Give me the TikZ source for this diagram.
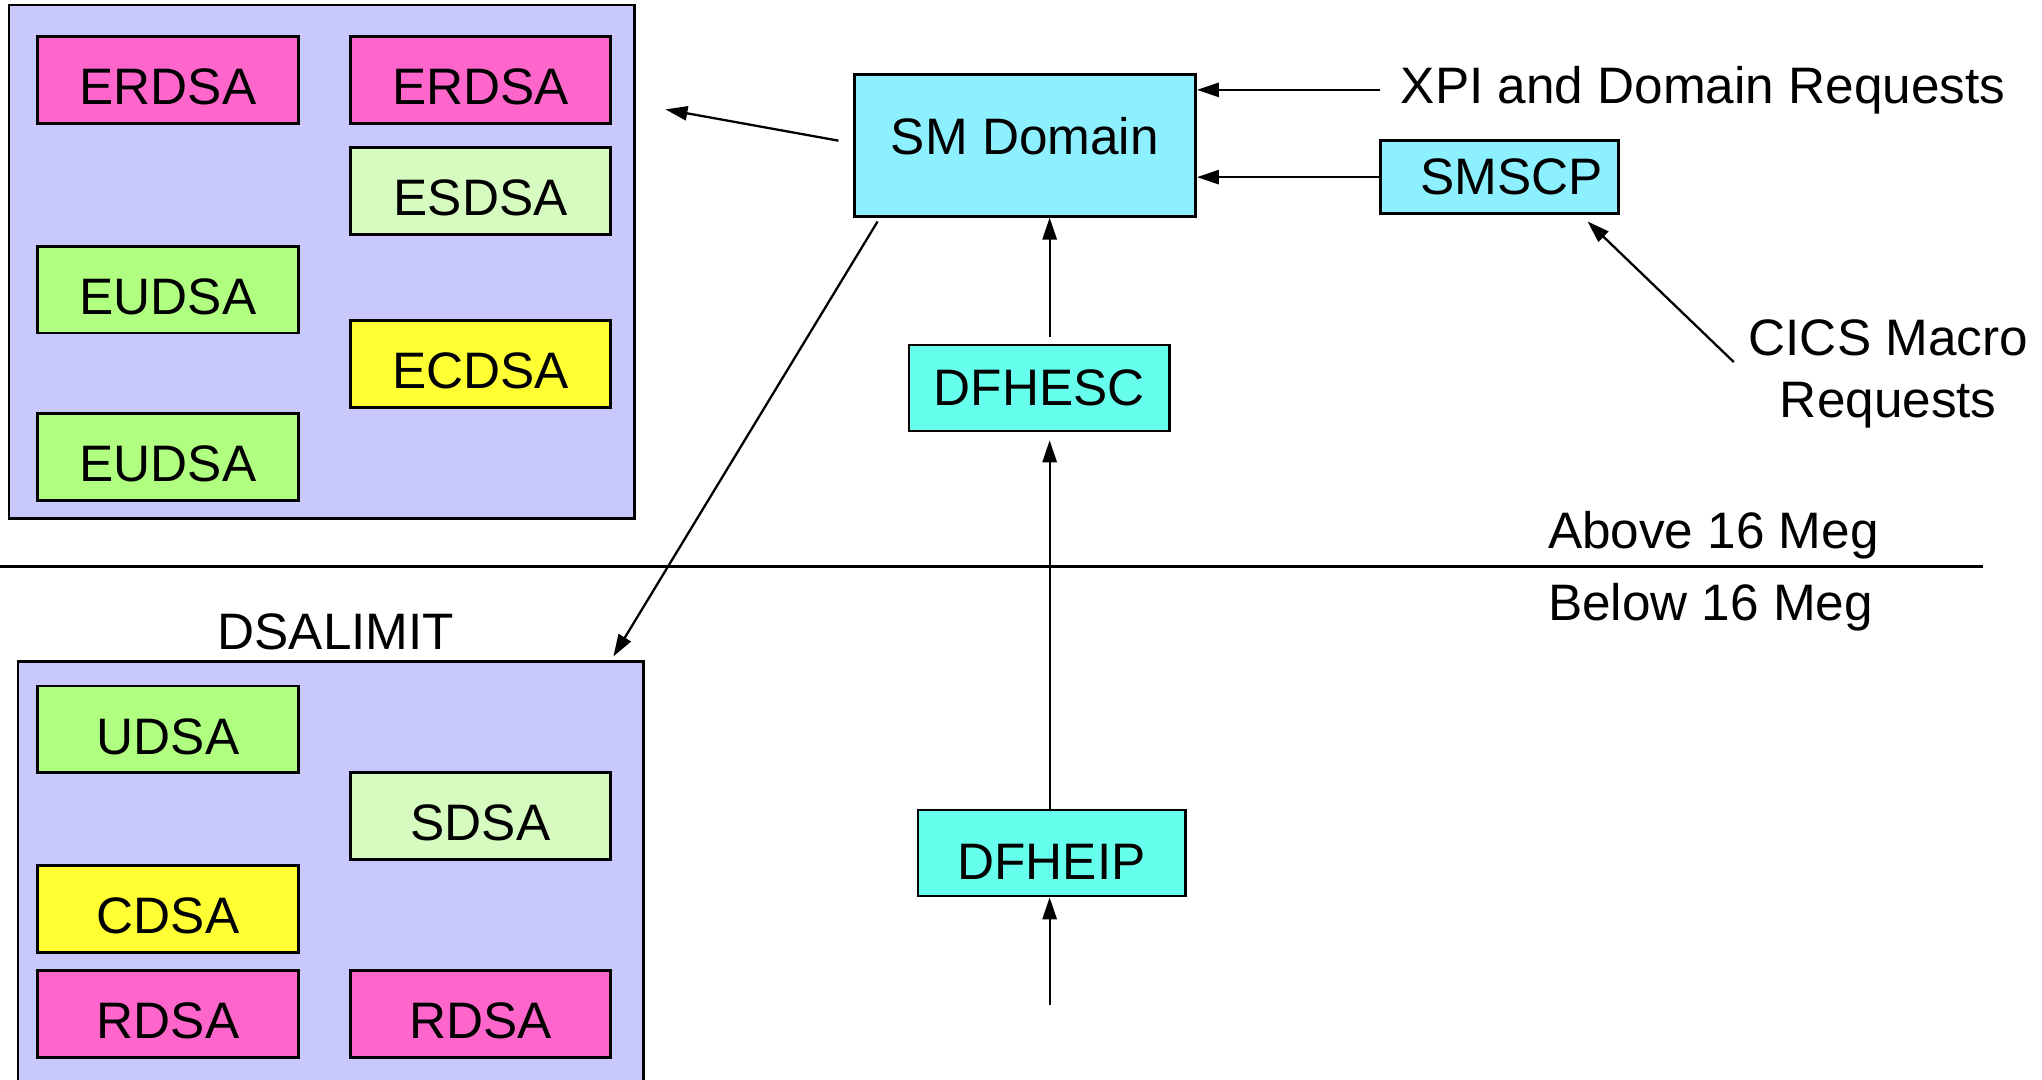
\documentclass[tikz,border=0pt]{standalone}
\usepackage{fontspec}
\setmainfont{Liberation Sans}
\usetikzlibrary{arrows.meta, calc}
\definecolor{poolblue}{HTML}{C8C8FC}
\definecolor{rdsapink}{HTML}{FF66CC}
\definecolor{udsagreen}{HTML}{B0FF80}
\definecolor{sdsagreen}{HTML}{D6FBC0}
\definecolor{cdsayellow}{HTML}{FFFF33}
\definecolor{domcyan}{HTML}{8CF0FF}
\definecolor{modcyan}{HTML}{66FFEE}

\begin{document}
\begin{tikzpicture}[x=0.01cm, y=-0.01cm,
        font=\fontsize{11.2}{13.5}\selectfont,
        pool/.style={draw, line width=0.5pt, fill=poolblue, minimum width=4.8cm, inner sep=0pt},
        dsa/.style={draw, line width=0.6pt, minimum width=2cm, minimum height=0.665cm, inner sep=0pt, text height=0.38cm, text depth=0pt},
        module/.style={draw, line width=0.6pt, minimum height=0.66cm, inner sep=0pt},
        plain/.style={anchor=west, inner sep=0pt},
        arr/.style={-{Triangle[length=4.8pt, width=3.1pt]}, line width=0.5pt}]
    \useasboundingbox (0,0) rectangle (1568,829);
    \clip (0,0) rectangle (1568,829);

    % storage pools above and below the line
    \node[pool, minimum height=3.94cm] (upper) at (247,201) {};
    \node[pool, minimum height=3.32cm] (lower) at (254,674) {};
    \node (dsalimit) at (258,485) {DSALIMIT};

    \node[dsa, fill=rdsapink] (erdsa1) at (129,61.5) {ERDSA};
    \node[dsa, fill=rdsapink] (erdsa2) at (369,61.5) {ERDSA};
    \node[dsa, fill=sdsagreen] (esdsa) at (369,146.5) {ESDSA};
    \node[dsa, fill=udsagreen] (eudsa1) at (129,222.5) {EUDSA};
    \node[dsa, fill=cdsayellow] (ecdsa) at (369,279.5) {ECDSA};
    \node[dsa, fill=udsagreen] (eudsa2) at (129,351) {EUDSA};

    \node[dsa, fill=udsagreen] (udsa) at (129,560) {UDSA};
    \node[dsa, fill=sdsagreen] (sdsa) at (369,626.5) {SDSA};
    \node[dsa, fill=cdsayellow] (cdsa) at (129,698) {CDSA};
    \node[dsa, fill=rdsapink] (rdsa1) at (129,778.5) {RDSA};
    \node[dsa, fill=rdsapink] (rdsa2) at (369,778.5) {RDSA};

    % domain and modules
    \node[module, fill=domcyan, minimum width=2.62cm, minimum height=1.09cm, text depth=0.15cm] (smdom) at (787,111.5) {SM Domain};
    \node[module, fill=domcyan, minimum width=1.83cm, minimum height=0.56cm] (smscp) at (1151.5,136) {\hspace{0.18cm}SMSCP};
    \node[module, fill=modcyan, minimum width=2cm] (dfhesc) at (798,298) {DFHESC};
    \node[module, fill=modcyan, minimum width=2.05cm, text height=0.4cm, text depth=0pt] (dfheip) at (807.5,655) {DFHEIP};

    \node[plain] (xpi) at (1075,69) {XPI and Domain Requests};
    \node[align=center] (cics) at (1450,287) {CICS Macro\\Requests};
    \node[plain] (above) at (1188,411) {Above 16 Meg};
    \node[plain] (below) at (1188,466) {Below 16 Meg};

    \coordinate (col) at (806,0);
    \coordinate (entry) at (806,772);
    \coordinate (tostore) at (511,84);
    \coordinate (lineL) at (0,435);
    \coordinate (lineR) at (1523,435);

    \draw[line width=0.5pt] (lineL) -- (lineR);

    \draw[arr] ([xshift=-0.15cm]xpi.west) -- (xpi.west -| smdom.east);
    \draw[arr] (smscp.west) -- (smscp.west -| smdom.east);
    \draw[arr] ([xshift=0.01cm,yshift=0.09cm]cics.west) -- ($(smscp.south east)+(-25,5)$);
    \draw[arr] ([xshift=-0.11cm,yshift=0.035cm]smdom.west) -- (tostore);
    \draw[arr] ($(smdom.south west)+(19,3)$) -- ($(lower.north east)+(-24,-3)$);
    \draw[arr] ([yshift=0.05cm]dfhesc.north -| col) -- (smdom.south -| col);
    \draw[arr] (dfheip.north -| col) -- ([yshift=-0.06cm]dfhesc.south -| col);
    \draw[arr] (entry) -- (dfheip.south -| col);
\end{tikzpicture}
\end{document}
